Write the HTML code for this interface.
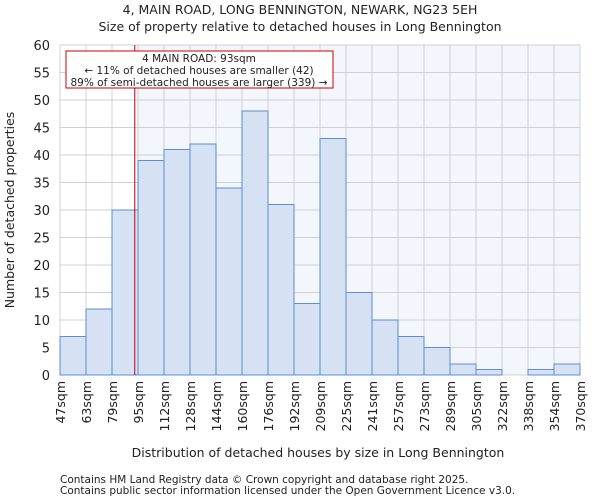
<!DOCTYPE html>
<html><head><meta charset="utf-8"><style>
body{margin:0;background:#fff;font-family:"DejaVu Sans","Liberation Sans",sans-serif}
svg text{font-family:"DejaVu Sans","Liberation Sans",sans-serif;fill:#222}
</style></head><body>
<svg id="chart" width="600" height="500" xmlns="http://www.w3.org/2000/svg">
<text x="300" y="14" text-anchor="middle" font-size="12.5">4, MAIN ROAD, LONG BENNINGTON, NEWARK, NG23 5EH</text>
<text x="300" y="31" text-anchor="middle" font-size="12.5">Size of property relative to detached houses in Long Bennington</text>
<g id="plot"></g>
<text x="318" y="457" text-anchor="middle" font-size="12.5">Distribution of detached houses by size in Long Bennington</text>
<text transform="translate(14,210) rotate(-90)" text-anchor="middle" font-size="12.5">Number of detached properties</text>
<text x="60" y="483" font-size="10.5">Contains HM Land Registry data © Crown copyright and database right 2025.</text>
<text x="60" y="494" font-size="10.5">Contains public sector information licensed under the Open Government Licence v3.0.</text>
</svg>
<script>
const binLabels=["47sqm","63sqm","79sqm","95sqm","112sqm","128sqm","144sqm","160sqm","176sqm","192sqm","209sqm","225sqm","241sqm","257sqm","273sqm","289sqm","305sqm","322sqm","338sqm","354sqm","370sqm"];
const binEdges=[47,63,79,95,112,128,144,160,176,192,209,225,241,257,273,289,305,322,338,354,370];
const counts=[7,12,30,39,41,42,34,48,31,13,43,15,10,7,5,2,1,0,1,2];
const yTicks=[0,5,10,15,20,25,30,35,40,45,50,55,60];
const propertySize=93;
const X0=60,X1=580,Y0=375,Y1=45,NB=counts.length;
const xi=i=>X0+(X1-X0)*i/NB;
function xv(v){let i=0;while(i<binEdges.length-2&&v>binEdges[i+1])i++;return xi(i)+(xi(i+1)-xi(i))*(v-binEdges[i])/(binEdges[i+1]-binEdges[i]);}
const y=v=>Y0-(Y0-Y1)*v/60;
const g=document.getElementById('plot');const NS="http://www.w3.org/2000/svg";
function mk(t,a,p){const e=document.createElementNS(NS,t);for(const k in a)e.setAttribute(k,a[k]);(p||g).appendChild(e);return e;}
const mx=xv(propertySize);
mk('rect',{x:mx,y:Y1,width:X1-mx,height:Y0-Y1,fill:'#f3f6fd'});
yTicks.forEach(t=>{const l=mk('line',{x1:X0,x2:X1,y1:y(t),y2:y(t),stroke:'#d0d0d0','stroke-width':1});


const tx=mk('text',{x:X0-10,y:y(t)+5,'text-anchor':'end','font-size':13});tx.textContent=t;

});
binLabels.forEach((lb,i)=>{const l=mk('line',{x1:xi(i),x2:xi(i),y1:Y1,y2:Y0,stroke:'#d0d0d0','stroke-width':1});


const tx=mk('text',{transform:`translate(${xi(i)+5},${Y0+6}) rotate(-90)`,'text-anchor':'end','font-size':12.5});tx.textContent=lb;

});
counts.forEach((c,i)=>{const r=mk('rect',{x:xi(i),y:y(c),width:xi(i+1)-xi(i),height:Y0-y(c),fill:'#d6e2f3',stroke:'#5b8fd6','stroke-width':1});

});
const rl=mk('line',{x1:mx,x2:mx,y1:Y1,y2:Y0,stroke:'#cc0000','stroke-width':1});


const box=mk('rect',{x:66,y:51,width:267,height:37,fill:'#fff',stroke:'#cc0000','stroke-width':1});


["4 MAIN ROAD: 93sqm","← 11% of detached houses are smaller (42)","89% of semi-detached houses are larger (339) →"].forEach((s,i)=>{const t=mk('text',{x:199,y:62+i*12,'text-anchor':'middle','font-size':10.5});t.textContent=s;

});
</script>
</body></html>
